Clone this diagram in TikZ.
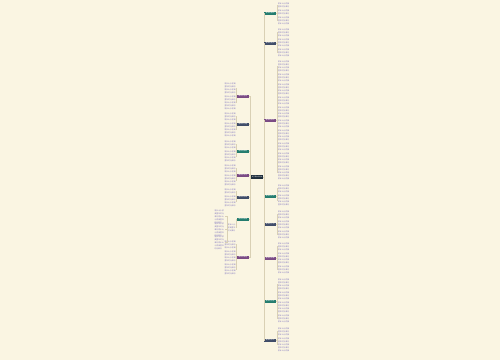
\documentclass[tikz,border=0pt]{standalone}
\usepackage{fontspec}
\newfontfamily\cjk{Noto Sans CJK SC}
\XeTeXlinebreaklocale "zh"
\XeTeXlinebreakskip=0pt plus 0.3pt
\definecolor{PaperCream}{HTML}{FAF5E2}
\definecolor{RootNavy}{HTML}{1E2E3C}
\definecolor{BranchTeal}{HTML}{237C6E}
\definecolor{BranchSlate}{HTML}{3F4C68}
\definecolor{BranchPlum}{HTML}{7A4A84}
\definecolor{LeafLilac}{HTML}{8479C0}
\definecolor{LinkTan}{HTML}{D9D0B4}
\newcommand\lns[1]{\foreach \q in {1,...,#1}{\ifodd\q 家乡山水很美\else 童年时光难忘\fi}}

\begin{document}
\begin{tikzpicture}[
  x=1pt, y=-1pt,
  root/.style={fill=RootNavy, text=white, minimum width=12pt, minimum height=4pt, inner sep=0pt, font=\cjk\fontsize{1.5}{2}\selectfont},
  branch/.style={text=white, minimum width=12pt, minimum height=3pt, inner sep=0pt, font=\cjk\fontsize{1.7}{2}\selectfont},
  leaf/.style={text=LeafLilac, text width=11.4pt, inner sep=0.3pt, align=left, font=\cjk\fontsize{1.85}{3}\selectfont},
  link/.style={draw=LinkTan, line width=0.4pt}
]
  \fill[PaperCream] (0,0) rectangle (500,360);
  \useasboundingbox (0,0) rectangle (500,360);

  \node[root] (root) at (257,177) {关于家乡的作文};

  % right side
  \foreach \nm/\y/\col/\lbl/\lv in {
    r1/13/BranchTeal/家乡的春天/{2/2,9/2,16/3},
    r2/43/BranchSlate/家乡的夏天/{28/3,38/3,48/3},
    r3/120/BranchPlum/家乡的秋天/{60/4,73/3,83/4,96/3,106/4,119/3,129/4,142/3,152/4,165/5},
    r4/196/BranchTeal/家乡的冬天/{184/3,194/4},
    r5/224/BranchSlate/家乡的小河/{210/3,220/3,230/3},
    r6/258/BranchPlum/家乡的美食/{242/3,252/4,265/3},
    r7/301/BranchTeal/家乡的变化/{278/4,291/3,301/4,314/3},
    r8/340/BranchSlate/家乡的亲人/{327/3,337/5}}{
    \node[branch, fill=\col, anchor=west] (\nm) at (264,\y) {\lbl};
    \draw[link] (root.east) -- ++(0.6,0) |- (\nm.west);
    \foreach \t/\n [count=\k] in \lv {
      \node[leaf, anchor=north west] (\nm l\k) at (277.6,\t) {\lns{\n}};
      \draw[link] (\nm.east) -- ++(0.8,0) |- (\nm l\k.west);
    }
  }

  % left side
  \foreach \nm/\y/\col/\lbl/\lv in {
    l1/96/BranchPlum/家乡的老街/{82/4,95/5},
    l2/124/BranchSlate/家乡的小路/{112/3,122/5},
    l3/151/BranchTeal/家乡的田野/{140/3,150/4},
    l4/175/BranchPlum/家乡的节日/{164/3,174/4},
    l5/197/BranchSlate/家乡的山峰/{188/2,195/4},
    l7/257/BranchPlum/家乡的味道/{240/3,250/4,263/4}}{
    \node[branch, fill=\col, anchor=east] (\nm) at (249,\y) {\lbl};
    \draw[link] (root.west) -- ++(-0.6,0) |- (\nm.east);
    \foreach \t/\n [count=\k] in \lv {
      \node[leaf, anchor=north east] (\nm l\k) at (236.4,\t) {\lns{\n}};
      \draw[link] (\nm.west) -- ++(-0.6,0) |- (\nm l\k.east);
    }
  }

  % left branch with a second level
  \node[branch, fill=BranchTeal, anchor=east] (l6) at (249,219) {家乡的夜晚};
  \draw[link] (root.west) -- ++(-0.6,0) |- (l6.east);
  \node[leaf, text width=8pt, anchor=north east] (l6l1) at (236.4,223) {\lns{2}};
  \draw[link] (l6.west) -- ++(-0.6,0) |- (l6l1.east);
  \foreach \t/\n [count=\k] in {209/4,222/4,235/4}{
    \node[leaf, text width=10pt, anchor=north east] (l6m\k) at (225,\t) {\lns{\n}};
    \draw[link] (l6l1.west) -- ++(-0.5,0) |- (l6m\k.east);
  }
\end{tikzpicture}
\end{document}
